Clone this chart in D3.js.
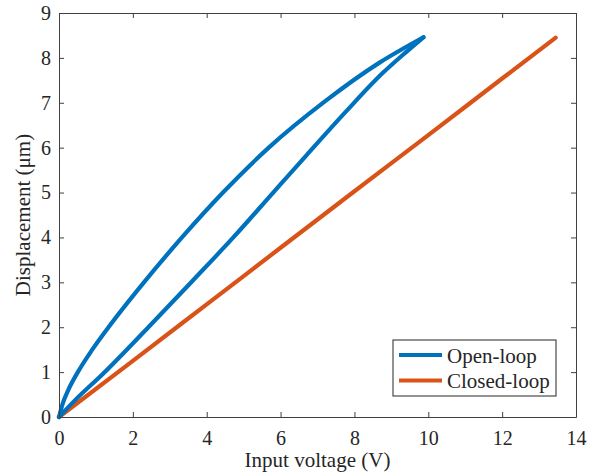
<!DOCTYPE html>
<html>
<head>
<meta charset="utf-8">
<script src="https://cdn.jsdelivr.net/npm/d3@7"></script>
<style>
  body { margin: 0; background: #fff; }
  svg text { font-family: "Liberation Serif", "Times New Roman", serif; fill: #262626; }
</style>
</head>
<body>
<svg id="chart" width="598" height="476"></svg>
<script>
// open-loop ascending branch (lower), voltage in V, displacement in um
const openUpV = [0, 0.43, 1.2, 2.42, 3.6, 4.72, 5.8, 6.7, 7.8, 8.75, 9.4, 9.87];
const openUpD = [0, 0.37, 0.97, 2.0, 3.02, 4.0, 5.0, 5.83, 6.83, 7.65, 8.13, 8.46];
// open-loop descending branch (upper)
const openDownV = [0, 0.1, 0.25, 0.51, 0.9, 1.34, 2.3, 3.33, 4.44, 5.68, 7.2, 8.69, 9.87];
const openDownD = [0, 0.3, 0.6, 1.0, 1.5, 2.0, 3.0, 4.0, 5.0, 6.0, 7.03, 7.9, 8.46];
// closed-loop response
const closedV = [0, 2, 4, 6, 8, 10, 12, 13.45];
const closedD = [0, 1.25, 2.51, 3.77, 5.03, 6.28, 7.54, 8.45];

const xTicks = [0, 2, 4, 6, 8, 10, 12, 14];
const yTicks = [0, 1, 2, 3, 4, 5, 6, 7, 8, 9];
const seriesNames = ["Open-loop", "Closed-loop"];
const seriesColors = ["#0072BD", "#D95319"];

const svg = d3.select("#chart");
const margin = { left: 59, top: 13, right: 22, bottom: 59 };
const width = +svg.attr("width");
const height = +svg.attr("height");
const x0 = margin.left, x1 = width - margin.right;
const y0 = height - margin.bottom, y1 = margin.top;

const x = d3.scaleLinear().domain([0, 14]).range([x0, x1]);
const y = d3.scaleLinear().domain([0, 9]).range([y0, y1]);

const lower = openUpV.map((v, i) => [v, openUpD[i]]);
const upper = openDownV.map((v, i) => [v, openDownD[i]]);
const closedLoop = closedV.map((v, i) => [v, closedD[i]]);

const line = d3.line()
  .x(d => x(d[0]))
  .y(d => y(d[1]))
  .curve(d3.curveMonotoneX);

function drawSeries(data, color) {
  svg.append("path")
    .datum(data)
    .attr("d", line)
    .attr("fill", "none")
    .attr("stroke", color)
    .attr("stroke-width", 4.2)
    .attr("stroke-linejoin", "round")
    .attr("stroke-linecap", "round");
}

drawSeries(closedLoop, seriesColors[1]);
drawSeries(lower, seriesColors[0]);
drawSeries(upper, seriesColors[0]);

// axes with inward ticks, box all round
function styleAxis(g) {
  g.select(".domain").attr("stroke", "#404040").attr("stroke-width", 1);
  g.selectAll(".tick line").attr("stroke", "#404040");
  g.selectAll(".tick text")
    .attr("font-size", 20)
    .attr("font-family", null)
    .attr("fill", "#262626");
}

svg.append("g")
  .attr("transform", `translate(0,${y0})`)
  .call(d3.axisBottom(x).tickValues(xTicks).tickSize(-5).tickSizeOuter(0).tickPadding(14))
  .call(styleAxis);

svg.append("g")
  .attr("transform", `translate(0,${y1})`)
  .call(d3.axisTop(x).tickValues(xTicks).tickSize(-5).tickSizeOuter(0).tickFormat(""))
  .call(styleAxis);

svg.append("g")
  .attr("transform", `translate(${x0},0)`)
  .call(d3.axisLeft(y).tickValues(yTicks).tickSize(-5).tickSizeOuter(0).tickPadding(8))
  .call(styleAxis);

svg.append("g")
  .attr("transform", `translate(${x1},0)`)
  .call(d3.axisRight(y).tickValues(yTicks).tickSize(-5).tickSizeOuter(0).tickFormat(""))
  .call(styleAxis);

// axis labels
svg.append("text")
  .attr("x", (x0 + x1) / 2)
  .attr("y", 467)
  .attr("text-anchor", "middle")
  .attr("font-size", 21)
  .text("Input voltage (V)");

svg.append("text")
  .attr("transform", `translate(30,${(y0 + y1) / 2}) rotate(-90)`)
  .attr("text-anchor", "middle")
  .attr("font-size", 21)
  .text("Displacement (μm)");

// legend
const legend = svg.append("g").attr("transform", "translate(393,340)");
legend.append("rect")
  .attr("width", 163)
  .attr("height", 56)
  .attr("fill", "#fff")
  .attr("stroke", "#262626")
  .attr("stroke-width", 1);

seriesNames.forEach((name, i) => {
  const row = legend.append("g").attr("transform", `translate(0,${15 + i * 25.5})`);
  row.append("line")
    .attr("x1", 6).attr("x2", 49)
    .attr("stroke", seriesColors[i])
    .attr("stroke-width", 4);
  row.append("text")
    .attr("x", 54)
    .attr("y", 7.5)
    .attr("font-size", 21)
    .text(name);
});
</script>
</body>
</html>
